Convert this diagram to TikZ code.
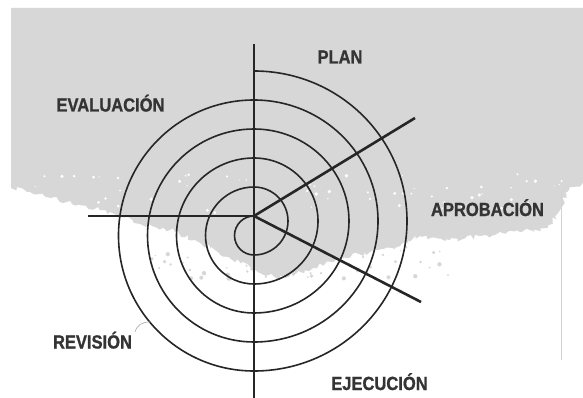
\documentclass[tikz,border=0pt]{standalone}
\usepackage{fontspec}
\newfontfamily\labfont{Liberation Sans}[FakeStretch=0.87,FakeBold=1]
\usetikzlibrary{decorations.pathmorphing}
\definecolor{bggray}{HTML}{D7D7D7}
\definecolor{ink}{HTML}{262626}
\definecolor{txt}{HTML}{343434}
\begin{document}
\begin{tikzpicture}[x=1pt,y=-1pt,
  axis/.style={draw=ink,line width=2.6pt},
  spiralline/.style={draw=ink,line width=1.6pt},
  pointer/.style={draw=gray!60,line width=0.7pt},
  lab/.style={font=\labfont\bfseries\fontsize{19}{19}\selectfont,text=txt,anchor=base,inner sep=0pt},
  rim/.style={decoration={random steps,segment length=3pt,amplitude=2.5pt}}
]
\useasboundingbox (0,0) rectangle (583,398);
\fill[white] (0,0) rectangle (583,398);
\pgfmathsetseed{12}
% gray photocopy background with ragged lower edge
\fill[bggray] (11,8) -- (583,8) -- (583,182)
  decorate[rim]{ -- (566,192) -- (560,210) -- (548,228) -- (520,232) -- (480,236)
  -- (450,240) -- (420,236) -- (400,246) -- (370,252) -- (340,258) -- (300,272)
  -- (280,278) -- (262,274) -- (240,262) -- (215,250) -- (195,240) -- (170,230)
  -- (140,224) -- (110,212) -- (80,205) -- (50,198) -- (30,192) -- (11,188)} -- cycle;
\foreach \i in {1,...,80}{
  \pgfmathsetmacro\sx{150+300*rnd}
  \pgfmathsetmacro\sy{235+45*rnd}
  \pgfmathsetmacro\sr{0.6+1.6*rnd}
  \fill[bggray] (\sx,\sy) circle[radius=\sr];
}
\foreach \i in {1,...,70}{
  \pgfmathsetmacro\sx{15+560*rnd}
  \pgfmathsetmacro\sy{174+40*rnd}
  \pgfmathsetmacro\sr{0.5+1.4*rnd}
  \fill[white] (\sx,\sy) circle[radius=\sr];
}
\draw[draw=gray!35,line width=0.8pt] (561,192) -- (561,360);
% spiral
\coordinate (O) at (254,216);
\draw[spiralline] (O) arc[start angle=270,end angle=90,radius=19.5]
  arc[start angle=90,end angle=-90,x radius=34,y radius=34]
  arc[start angle=270,end angle=90,radius=48.5]
  arc[start angle=90,end angle=-90,x radius=64,y radius=63]
  arc[start angle=270,end angle=90,radius=77.5]
  arc[start angle=90,end angle=-90,x radius=95,y radius=92]
  arc[start angle=270,end angle=90,radius=106.5]
  arc[start angle=90,end angle=-90,x radius=124,y radius=121]
  arc[start angle=270,end angle=90,radius=135.5]
  arc[start angle=90,end angle=-90,x radius=153,y radius=150] coordinate (S);
% axes
\coordinate (Vt) at (254,44);
\coordinate (Vb) at (254,399);
\coordinate (Hl) at (88,216);
\coordinate (Ur) at (415,118);
\coordinate (Dr) at (421,302);
\draw[axis] (Vt) -- (Vb);
\draw[axis] (Hl) -- (O);
\draw[axis] (O) -- (Ur);
\draw[axis] (O) -- (Dr);
% labels
\node[lab] (plan) at (340,63.5) {PLAN};
\node[lab] (eval) at (110.5,111.5) {EVALUACIÓN};
\node[lab] (apro) at (487.5,216) {APROBACIÓN};
\node[lab] (revi) at (92.5,348.5) {REVISIÓN};
\node[lab] (ejec) at (379.5,390) {EJECUCIÓN};
\coordinate (p1) at (135,332);
\coordinate (p2) at (150,322);
\draw[pointer] (p1) .. controls (137,325) and (142,322) .. (p2);
\end{tikzpicture}
\end{document}
